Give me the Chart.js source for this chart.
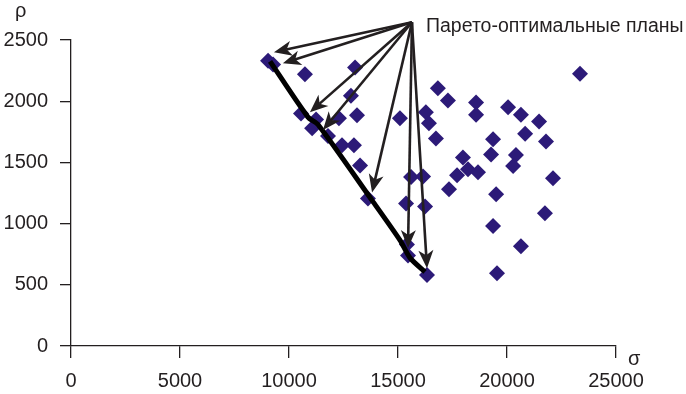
<!DOCTYPE html>
<html>
<head>
<meta charset="utf-8">
<script src="https://cdn.jsdelivr.net/npm/chart.js"></script>
<style>
  html, body { margin: 0; padding: 0; background: #fff; }
</style>
</head>
<body>
<canvas id="myChart" width="686" height="394"></canvas>
<script>
// все планы: σ (риск) и ρ (доход)
const sigma = [9040, 9270, 10730, 13030, 12840, 13120, 10550, 11240, 12290, 11060,
  11790, 12430, 12980, 13260, 13620, 15090, 16280, 16420, 16740, 16830,
  17290, 18580, 18580, 17980, 18210, 18670, 17710, 15600, 16150, 17340,
  15370, 16240, 15410, 15460, 16330, 23350, 20050, 20640, 21470, 20830,
  21790, 19360, 19270, 20410, 20280, 22110, 19500, 21740, 19360, 20640, 19540];
const rho = [2330, 2300, 2220, 2275, 2045, 1885, 1900, 1850, 1860, 1780,
  1715, 1640, 1640, 1475, 1205, 1860, 1910, 1820, 1695, 2105,
  2005, 1990, 1890, 1540, 1445, 1420, 1395, 1380, 1385, 1280,
  1165, 1140, 830, 740, 580, 2225, 1950, 1890, 1835, 1735,
  1670, 1690, 1565, 1560, 1470, 1370, 1240, 1085, 980, 815, 595];

// граница Парето
const paretoSigma = [9130, 10870, 11330, 13810, 15090, 15550, 16240];
const paretoRho = [2325, 1870, 1810, 1190, 865, 720, 605];

// стрелки: откуда и куда
const arrowFrom = [15640, 2645];
const arrowSigma = [9310, 9720, 10960, 11560, 13810, 15460, 16330];
const arrowRho = [2400, 2310, 1910, 1765, 1255, 800, 635];

const xTicks = [0, 5000, 10000, 15000, 20000, 25000];
const yTicks = [0, 500, 1000, 1500, 2000, 2500];

const ink = '#231F20';
const font = "'Liberation Sans', Arial, sans-serif";

function drawArrow(ctx, x0, y0, x1, y1) {
  const ang = Math.atan2(y1 - y0, x1 - x0);
  const len = 18, half = 7.5;
  ctx.beginPath();
  ctx.moveTo(x0, y0);
  ctx.lineTo(x1 - Math.cos(ang) * len * 0.7, y1 - Math.sin(ang) * len * 0.7);
  ctx.stroke();
  ctx.save();
  ctx.translate(x1, y1);
  ctx.rotate(ang);
  ctx.beginPath();
  ctx.moveTo(0, 0);
  ctx.lineTo(-len, -half);
  ctx.lineTo(-len * 0.72, 0);
  ctx.lineTo(-len, half);
  ctx.closePath();
  ctx.fill();
  ctx.restore();
}

const extras = {
  id: 'extras',
  afterDatasetsDraw(chart) {
    const ctx = chart.ctx;
    const x = chart.scales.x, y = chart.scales.y;
    ctx.save();
    ctx.strokeStyle = ink;
    ctx.fillStyle = ink;
    ctx.lineWidth = 2.6;
    ctx.lineJoin = 'miter';
    const fx = x.getPixelForValue(arrowFrom[0]);
    const fy = y.getPixelForValue(arrowFrom[1]);
    arrowSigma.forEach((s, i) => {
      drawArrow(ctx, fx, fy, x.getPixelForValue(s), y.getPixelForValue(arrowRho[i]));
    });
    ctx.textBaseline = 'alphabetic';
    ctx.textAlign = 'left';
    ctx.font = '19.5px ' + font;
    ctx.fillText('Парето-оптимальные планы', 426, 32);
    ctx.font = '20px ' + font;
    ctx.fillText('σ', 628, 365);
    ctx.fillText('ρ', 15, 17);
    ctx.restore();
  }
};

new Chart(document.getElementById('myChart').getContext('2d'), {
  data: {
    datasets: [
      {
        type: 'line',
        data: paretoSigma.map((s, i) => ({ x: s, y: paretoRho[i] })),
        borderColor: '#000',
        borderWidth: 5,
        pointRadius: 0,
        tension: 0.25,
        fill: false,
        order: 0,
      },
      {
        type: 'scatter',
        data: sigma.map((s, i) => ({ x: s, y: rho[i] })),
        pointStyle: 'rectRot',
        pointRadius: 8,
        backgroundColor: '#2C1A78',
        borderWidth: 0,
        order: 1,
      }
    ]
  },
  options: {
    responsive: false,
    animation: false,
    layout: { padding: { left: 0, right: 70, top: 40, bottom: 0 } },
    plugins: { legend: { display: false }, tooltip: { enabled: false } },
    scales: {
      x: {
        type: 'linear',
        min: 0, max: 25000,
        afterBuildTicks: s => { s.ticks = xTicks.map(v => ({ value: v })); },
        afterFit: s => { s.height = 48; },
        border: { color: ink, width: 1.3 },
        grid: { drawOnChartArea: false, color: ink, lineWidth: 1.3, tickLength: 12 },
        ticks: { color: ink, font: { family: font, size: 20 }, padding: 11, maxRotation: 0, callback: v => String(v) },
      },
      y: {
        type: 'linear',
        min: 0, max: 2500,
        afterBuildTicks: s => { s.ticks = yTicks.map(v => ({ value: v })); },
        afterFit: s => { s.width = 71; },
        border: { color: ink, width: 1.3 },
        grid: { drawOnChartArea: false, color: ink, lineWidth: 1.3, tickLength: 11 },
        ticks: { color: ink, font: { family: font, size: 20 }, padding: 12, callback: v => String(v) },
      }
    }
  },
  plugins: [extras]
});
</script>
</body>
</html>
